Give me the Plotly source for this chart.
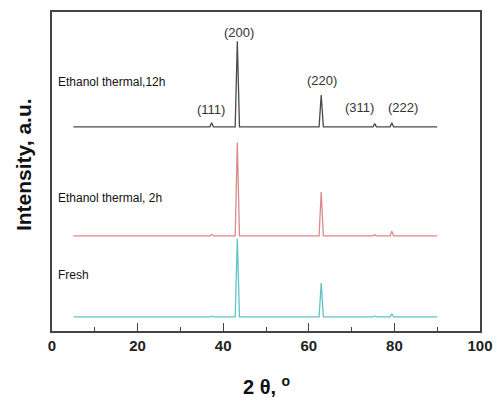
import plotly.graph_objects as go

# 2-theta positions (deg) of points describing each pattern
two_theta = [5, 36.9, 37.3, 37.7, 42.8, 43.3, 43.8, 62.4, 62.9, 63.4, 75.0, 75.4, 75.8, 79.0, 79.4, 79.8, 90]

# intensities (a.u.), stacked offsets separate
fresh_int = [0, 0, 0.3, 0, 0, 24.5, 0, 0, 10.6, 0, 0, 0.3, 0, 0, 1.0, 0, 0]
eth2h_int = [0, 0, 0.5, 0, 0, 29.3, 0, 0, 13.8, 0, 0, 0.4, 0, 0, 1.5, 0, 0]
eth12h_int = [0, 0, 1.3, 0, 0, 26.8, 0, 0, 10.0, 0, 0, 1.0, 0, 0, 1.3, 0, 0]

sample_names = ["Fresh", "Ethanol thermal, 2h", "Ethanol thermal,12h"]
offsets = [4.4, 29.8, 64.0]
colors = ["#5fc3c8", "#d98a8a", "#4a4a4a"]

peak_labels = ["(111)", "(200)", "(220)", "(311)", "(222)"]
peak_label_x = [37.2, 43.7, 63.1, 71.9, 82.0]
peak_label_y = [69.3, 93.7, 78.4, 70.2, 70.2]

x_ticks = [0, 20, 40, 60, 80, 100]

fig = go.Figure()
for name, ints, off, col in zip(sample_names, [fresh_int, eth2h_int, eth12h_int], offsets, colors):
    fig.add_trace(go.Scatter(
        x=two_theta, y=[v + off for v in ints], mode="lines",
        line=dict(color=col, width=1.3), name=name, showlegend=False,
    ))

# sample labels
label_y = [17.6, 41.7, 78.1]
for name, ly in zip(sample_names, label_y):
    fig.add_annotation(x=1.0, y=ly, xref="x", yref="y", text=name, showarrow=False,
                       xanchor="left", yanchor="middle",
                       font=dict(family="Liberation Sans", size=12, color="#111"))

for t, px, py in zip(peak_labels, peak_label_x, peak_label_y):
    fig.add_annotation(x=px, y=py, xref="x", yref="y", text=t, showarrow=False,
                       xanchor="center", yanchor="middle",
                       font=dict(family="Liberation Sans", size=13, color="#333"))

fig.add_annotation(x=-0.068, y=0.523, xref="paper", yref="paper", text="<b>Intensity, a.u.</b>",
                   textangle=-90, showarrow=False, xanchor="center", yanchor="middle",
                   font=dict(family="Liberation Sans", size=21, color="#111"))
fig.add_annotation(x=0.5, y=-0.172, xref="paper", yref="paper", text="<b>2 θ, <sup>o</sup></b>",
                   showarrow=False, xanchor="center", yanchor="middle",
                   font=dict(family="Liberation Sans", size=20, color="#111"))

fig.update_layout(
    width=498, height=398,
    margin=dict(l=52, r=18, t=12, b=67),
    paper_bgcolor="white", plot_bgcolor="white",
    xaxis=dict(
        range=[0, 100], tickvals=x_ticks, ticktext=["<b>%d</b>" % v for v in x_ticks],
        ticks="inside", ticklen=8, tickwidth=1.3, tickcolor="#444",
        minor=dict(dtick=10, ticks="inside", ticklen=4, tickcolor="#444", tickwidth=1),
        showline=True, linecolor="#444", linewidth=1.5, mirror=True,
        showgrid=False, zeroline=False, automargin=False,
        tickfont=dict(family="Liberation Sans", size=15, color="#222"),
    ),
    yaxis=dict(
        range=[0, 100], showticklabels=False, ticks="",
        showline=True, linecolor="#444", linewidth=1.5, mirror=True,
        showgrid=False, zeroline=False, automargin=False,
    ),
)

fig.write_html("out.html", config={"displayModeBar": False},
               post_script="document.body.style.margin='0';document.body.style.overflow='hidden';")
